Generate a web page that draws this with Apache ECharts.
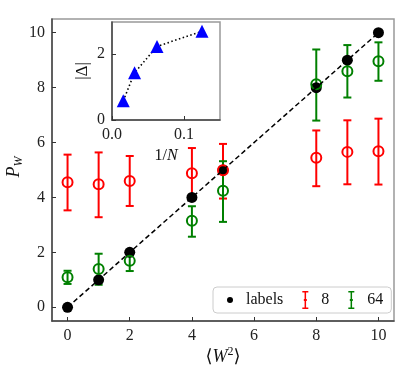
<!DOCTYPE html>
<html><head><meta charset="utf-8">
<script src="https://cdn.jsdelivr.net/npm/echarts@6/dist/echarts.min.js"></script>
<style>html,body{margin:0;padding:0;background:#fff}#c{width:415px;height:378px}</style>
</head><body><div id="c"></div>
<script>
// ---- data ----
const W2 = [0, 1, 2, 4, 5, 8, 9, 10];
const labelsP = [0, 1, 2, 4, 5, 8, 9, 10];
const p8 = [4.55, 4.48, 4.60, 4.88, 4.99, 5.45, 5.66, 5.68];
const p8Lo = [3.53, 3.28, 3.69, 3.93, 3.96, 4.41, 4.48, 4.47];
const p8Hi = [5.56, 5.64, 5.51, 5.80, 5.95, 6.44, 6.81, 6.87];
const p64 = [1.09, 1.39, 1.69, 3.15, 4.24, 8.12, 8.60, 8.96];
const p64Lo = [0.85, 0.82, 1.32, 2.57, 3.11, 6.80, 7.64, 8.25];
const p64Hi = [1.33, 1.95, 2.02, 3.68, 5.32, 9.39, 9.55, 9.65];
const invN = [0.0156, 0.0313, 0.0625, 0.125];
const absDelta = [0.58, 1.43, 2.23, 2.69];
const xTicks = [0, 2, 4, 6, 8, 10];
const yTicks = [0, 2, 4, 6, 8, 10];
const insetXTicks = [0, 0.1];
const insetYTicks = [0, 2];
const legendNames = ['labels', '8', '64'];

const FONT = '"Liberation Serif", "DejaVu Serif", serif';
const IBEAM = 'path://M0,0H6V1.5H3.75V8H4.5V10H3.75V16.5H6V18H0V16.5H2.25V10H1.5V8H2.25V1.5H0Z';

function errSeries(name, color, lo, hi) {
  return {
    type: 'custom', name: name, xAxisIndex: 0, yAxisIndex: 0,
    data: W2.map((x, i) => [x, lo[i], hi[i]]),
    encode: {x: 0, y: [1, 2]},
    renderItem: function (params, api) {
      const x = api.value(0);
      const a = api.coord([x, api.value(1)]);
      const b = api.coord([x, api.value(2)]);
      const c = 4;
      const st = {stroke: color, lineWidth: 2};
      return {type: 'group', children: [
        {type: 'line', shape: {x1: a[0], y1: a[1], x2: b[0], y2: b[1]}, style: st},
        {type: 'line', shape: {x1: a[0] - c, y1: a[1], x2: a[0] + c, y2: a[1]}, style: st},
        {type: 'line', shape: {x1: b[0] - c, y1: b[1], x2: b[0] + c, y2: b[1]}, style: st}
      ]};
    }
  };
}

function axisCommon(ticks, fmt, fs) {
  return {
    axisLine: {show: true, onZero: false, lineStyle: {color: '#444', width: 1.5}},
    axisTick: {show: true, inside: true, length: 4, customValues: ticks, lineStyle: {color: '#333', width: 1}},
    axisLabel: {customValues: ticks, fontFamily: FONT, fontSize: fs || 16, color: '#222', margin: 7,
      formatter: fmt || (v => String(v))},
    splitLine: {show: false}
  };
}

const chart = echarts.init(document.getElementById('c'));
chart.setOption({
  animation: false,
  grid: [
    {left: 52, top: 19, right: 21, bottom: 57, show: true, borderColor: '#999', borderWidth: 1.5},
    {left: 112, top: 22, width: 108, height: 98, show: true, borderColor: '#999', borderWidth: 1.5,
      backgroundColor: '#fff', z: 5}
  ],
  xAxis: [
    Object.assign({type: 'value', gridIndex: 0, min: -0.5, max: 10.5}, axisCommon(xTicks)),
    Object.assign({type: 'value', gridIndex: 1, min: 0, max: 0.15, z: 6}, axisCommon(insetXTicks, v => v.toFixed(1)))
  ],
  yAxis: [
    Object.assign({type: 'value', gridIndex: 0, min: -0.5, max: 10.5}, axisCommon(yTicks)),
    Object.assign({type: 'value', gridIndex: 1, min: 0, max: 2.97, z: 6}, axisCommon(insetYTicks))
  ],
  legend: {
    left: 213, top: 287, orient: 'horizontal', selectedMode: false,
    backgroundColor: 'rgba(255,255,255,0.8)', borderColor: '#ccc', borderWidth: 1, borderRadius: 4,
    padding: [4, 8, 4, 14], itemGap: 19, itemWidth: 6, itemHeight: 18, z: 10,
    textStyle: {fontFamily: FONT, fontSize: 16, color: '#111', padding: [0, 0, 0, 8]},
    data: [
      {name: legendNames[0], icon: 'circle', itemStyle: {color: '#000'}},
      {name: legendNames[1], icon: IBEAM, itemStyle: {color: '#ff0000'}},
      {name: legendNames[2], icon: IBEAM, itemStyle: {color: '#008000'}}
    ]
  },
  series: [
    {type: 'line', name: 'fit', xAxisIndex: 0, yAxisIndex: 0, data: W2.map((x, i) => [x, labelsP[i]]),
      showSymbol: false, symbol: 'none', lineStyle: {color: '#000', width: 1.5, type: [5, 3]}, silent: true},
    {type: 'scatter', name: 'labels', xAxisIndex: 0, yAxisIndex: 0, data: W2.map((x, i) => [x, labelsP[i]]),
      symbol: 'circle', symbolSize: 11, itemStyle: {color: '#000', opacity: 1}},
    errSeries('8', '#ff0000', p8Lo, p8Hi),
    {type: 'scatter', name: '8', xAxisIndex: 0, yAxisIndex: 0, data: W2.map((x, i) => [x, p8[i]]),
      symbol: 'circle', symbolSize: 10, itemStyle: {color: 'rgba(0,0,0,0)', borderColor: '#ff0000', borderWidth: 2, opacity: 1}},
    errSeries('64', '#008000', p64Lo, p64Hi),
    {type: 'scatter', name: '64', xAxisIndex: 0, yAxisIndex: 0, data: W2.map((x, i) => [x, p64[i]]),
      symbol: 'circle', symbolSize: 10, itemStyle: {color: 'rgba(0,0,0,0)', borderColor: '#008000', borderWidth: 2, opacity: 1}},
    {type: 'line', name: 'delta', xAxisIndex: 1, yAxisIndex: 1, z: 7,
      data: invN.map((x, i) => [x, absDelta[i]]),
      symbol: 'triangle', symbolSize: 13, showSymbol: true,
      itemStyle: {color: '#0000ff', opacity: 1},
      lineStyle: {color: '#000', width: 1.6, type: [1.5, 2.5]}}
  ],
  graphic: [
    {type: 'text', x: 14, y: 167, rotation: Math.PI / 2, z: 20,
      style: {text: '{i|P}{s|W}', align: 'center', verticalAlign: 'middle', fill: '#111',
        rich: {i: {fontFamily: FONT, fontStyle: 'italic', fontSize: 18, lineHeight: 22, fill: '#111'},
               s: {fontFamily: FONT, fontStyle: 'italic', fontSize: 12, lineHeight: 12, verticalAlign: 'bottom', fill: '#111'}}}},
    {type: 'text', x: 223, y: 357, z: 20,
      style: {text: '{n|⟨}{i|W}{s|2}{n|⟩}', align: 'center', verticalAlign: 'middle', fill: '#111',
        rich: {n: {fontFamily: FONT, fontSize: 18, lineHeight: 22, fill: '#111'},
               i: {fontFamily: FONT, fontStyle: 'italic', fontSize: 18, lineHeight: 22, fill: '#111'},
               s: {fontFamily: FONT, fontSize: 12, lineHeight: 12, verticalAlign: 'top', fill: '#111'}}}},
    {type: 'text', x: 83, y: 71, rotation: Math.PI / 2, z: 20,
      style: {text: '|Δ|', align: 'center', verticalAlign: 'middle', fill: '#111',
        font: '17px ' + FONT}},
    {type: 'text', x: 166, y: 156, z: 20,
      style: {text: '{n|1/}{i|N}', align: 'center', verticalAlign: 'middle', fill: '#111',
        rich: {n: {fontFamily: FONT, fontSize: 16, fill: '#111'},
               i: {fontFamily: FONT, fontStyle: 'italic', fontSize: 16, fill: '#111'}}}}
  ]
});
</script>
</body></html>
